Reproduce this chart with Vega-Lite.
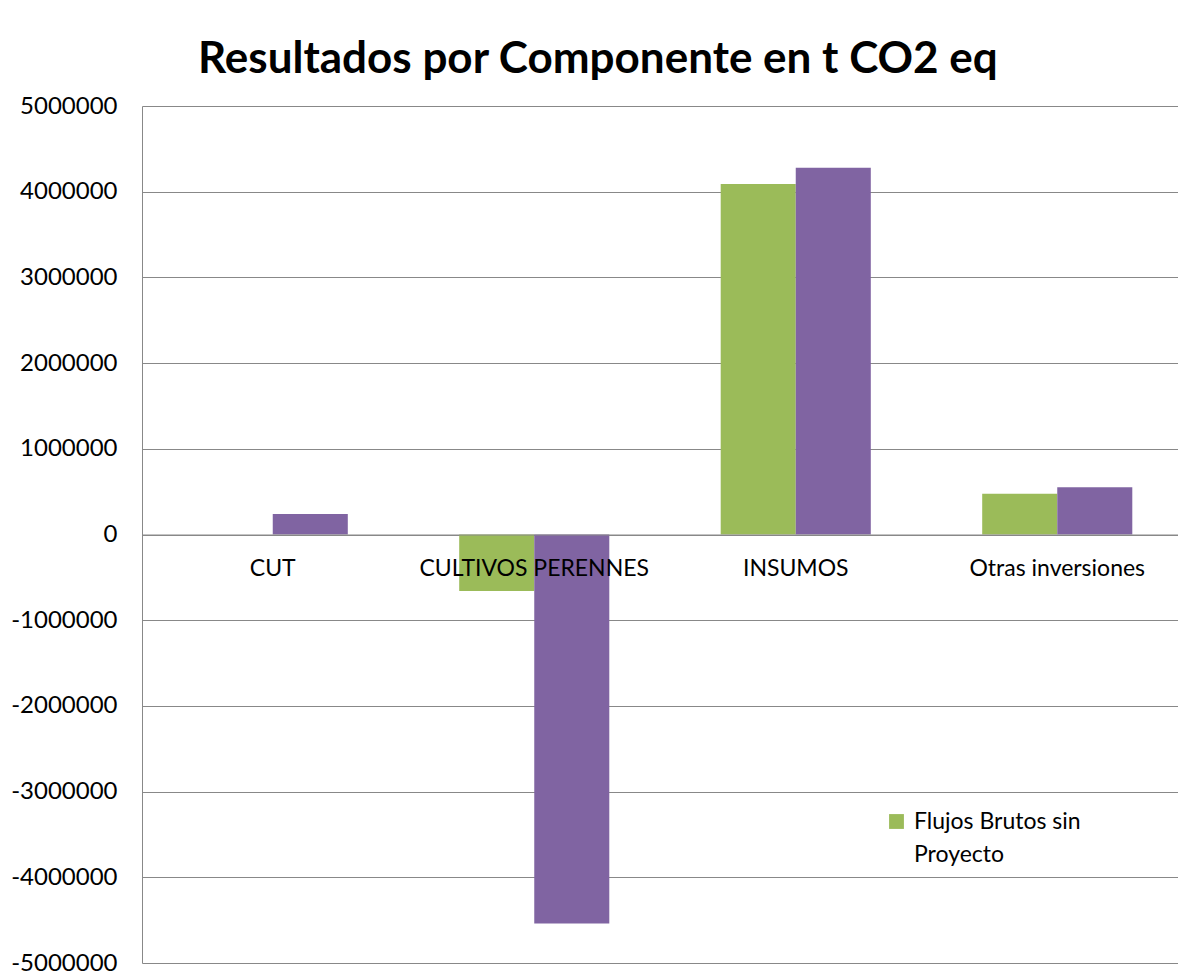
{
  "$schema": "https://vega.github.io/schema/vega-lite/v6.json",
  "width": 1046,
  "height": 857,
  "autosize": {"type": "none"},
  "padding": {"left": 142, "top": 106, "right": -10, "bottom": 13},
  "background": "white",
  "title": {
    "text": "Resultados por Componente en t CO2 eq",
    "anchor": "start",
    "frame": "group",
    "dx": 56,
    "offset": 12,
    "font": "Lato",
    "fontSize": 44,
    "fontWeight": "bold",
    "color": "#000000"
  },
  "data": {
    "values": [
      {"componente": "CUT", "serie": "Flujos Brutos sin Proyecto", "valor": 0},
      {"componente": "CUT", "serie": "Flujos Brutos con Proyecto", "valor": 240000},
      {"componente": "CULTIVOS PERENNES", "serie": "Flujos Brutos sin Proyecto", "valor": -660000},
      {"componente": "CULTIVOS PERENNES", "serie": "Flujos Brutos con Proyecto", "valor": -4540000},
      {"componente": "INSUMOS", "serie": "Flujos Brutos sin Proyecto", "valor": 4090000},
      {"componente": "INSUMOS", "serie": "Flujos Brutos con Proyecto", "valor": 4280000},
      {"componente": "Otras inversiones", "serie": "Flujos Brutos sin Proyecto", "valor": 476000},
      {"componente": "Otras inversiones", "serie": "Flujos Brutos con Proyecto", "valor": 551000}
    ]
  },
  "mark": {"type": "bar"},
  "encoding": {
    "x": {
      "field": "componente",
      "type": "nominal",
      "sort": ["CUT", "CULTIVOS PERENNES", "INSUMOS", "Otras inversiones"],
      "scale": {"paddingInner": 0.426, "paddingOuter": 0.213},
      "axis": {
        "title": null,
        "labelAngle": 0,
        "offset": -428.5,
        "domain": true,
        "domainColor": "#888888",
        "ticks": false,
        "labelFont": "Lato",
        "labelFontSize": 23,
        "labelColor": "#000000",
        "labelPadding": 23,
        "labelLimit": 400,
        "labelOverlap": false,
        "zindex": 1
      }
    },
    "xOffset": {
      "field": "serie",
      "type": "nominal",
      "sort": ["Flujos Brutos sin Proyecto", "Flujos Brutos con Proyecto"],
      "scale": {"paddingInner": 0, "paddingOuter": 0}
    },
    "y": {
      "field": "valor",
      "type": "quantitative",
      "scale": {"domain": [-5000000, 5000000], "nice": false},
      "axis": {
        "title": null,
        "values": [-5000000, -4000000, -3000000, -2000000, -1000000, 0, 1000000, 2000000, 3000000, 4000000, 5000000],
        "labelExpr": "'' + datum.value",
        "grid": true,
        "gridColor": "#888888",
        "gridWidth": 1,
        "domain": true,
        "domainColor": "#888888",
        "ticks": false,
        "labelFont": "Lato",
        "labelFontSize": 24,
        "labelColor": "#000000",
        "labelPadding": 25
      }
    },
    "color": {
      "field": "serie",
      "type": "nominal",
      "scale": {
        "domain": ["Flujos Brutos sin Proyecto", "Flujos Brutos con Proyecto"],
        "range": ["#9BBB59", "#8064A2"]
      },
      "legend": {
        "title": null,
        "orient": "none",
        "legendX": 743,
        "legendY": 704,
        "values": ["Flujos Brutos sin Proyecto"],
        "symbolType": "square",
        "symbolSize": 220,
        "symbolStrokeWidth": 0,
        "labelFont": "Lato",
        "labelFontSize": 23,
        "labelColor": "#000000",
        "labelLimit": 400,
        "labelExpr": "datum.label == 'Flujos Brutos sin Proyecto' ? ['Flujos Brutos sin', 'Proyecto'] : datum.label",
        "labelBaseline": "middle",
        "labelOffset": 6
      }
    }
  },
  "config": {
    "view": {"stroke": null},
    "axis": {"gridOpacity": 1},
    "style": {"guide-label": {"lineHeight": 33}}
  }
}
